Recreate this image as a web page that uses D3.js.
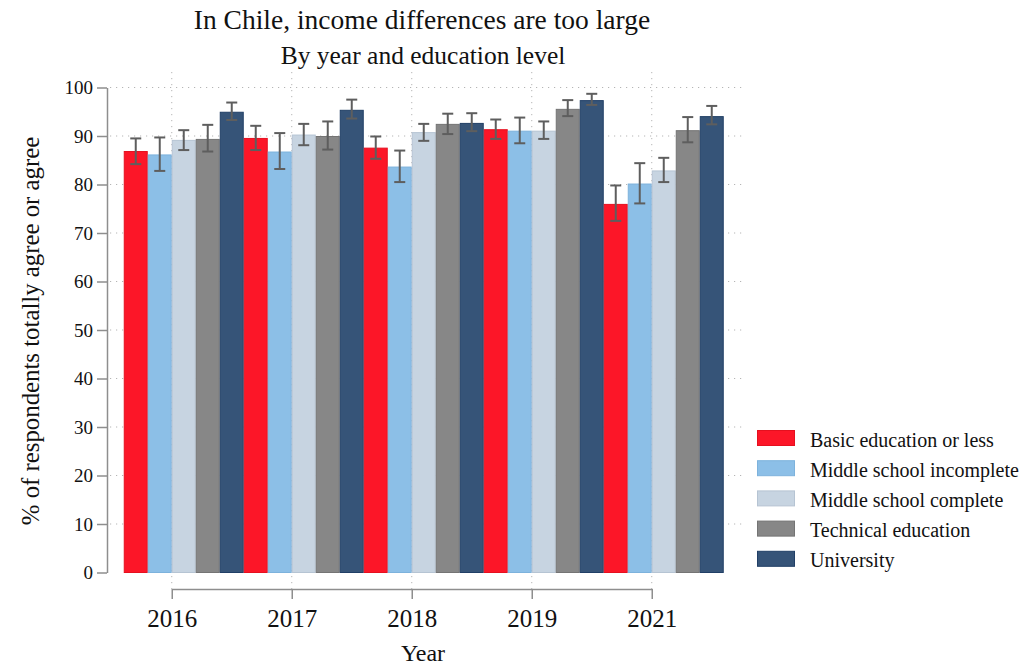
<!DOCTYPE html>
<html>
<head>
<meta charset="utf-8">
<script src="https://cdn.jsdelivr.net/npm/d3@7"></script>
<style>
  body { margin: 0; background: #fff; }
  text { font-family: "Liberation Serif", "Times New Roman", serif; fill: #111; }
</style>
</head>
<body>
<div id="container"></div>
<script>
// data
const years = ["2016", "2017", "2018", "2019", "2021"];
const categories = ["Basic education or less", "Middle school incomplete", "Middle school complete", "Technical education", "University"];
const yTicks = [0, 10, 20, 30, 40, 50, 60, 70, 80, 90, 100];

const basicVals = [86.9, 89.6, 87.6, 91.4, 76.0];
const basicLo   = [84.2, 87.1, 85.3, 89.4, 72.5];
const basicHi   = [89.5, 92.1, 89.9, 93.4, 79.8];

const midIncVals = [86.2, 86.8, 83.7, 91.1, 80.2];
const midIncLo   = [82.8, 83.2, 80.5, 88.5, 76.1];
const midIncHi   = [89.7, 90.6, 87.0, 93.8, 84.4];

const midCompVals = [89.2, 90.3, 90.8, 91.1, 82.9];
const midCompLo   = [87.1, 88.1, 89.0, 89.4, 80.5];
const midCompHi   = [91.2, 92.5, 92.5, 93.0, 85.5];

const techVals = [89.4, 90.0, 92.5, 95.6, 91.2];
const techLo   = [86.8, 87.2, 90.4, 94.1, 88.7];
const techHi   = [92.3, 93.0, 94.6, 97.4, 93.9];

const uniVals = [95.0, 95.4, 92.7, 97.4, 94.1];
const uniLo   = [93.3, 93.6, 91.0, 96.4, 92.4];
const uniHi   = [96.9, 97.5, 94.7, 98.7, 96.2];

const series = [
  { name: categories[0], vals: basicVals, lo: basicLo, hi: basicHi },
  { name: categories[1], vals: midIncVals, lo: midIncLo, hi: midIncHi },
  { name: categories[2], vals: midCompVals, lo: midCompLo, hi: midCompHi },
  { name: categories[3], vals: techVals, lo: techLo, hi: techHi },
  { name: categories[4], vals: uniVals, lo: uniLo, hi: uniHi }
];

const fills   = ["#fc1628", "#8cbfe7", "#c7d4e1", "#878787", "#365478"];
const strokes = ["#e5101f", "#7db2dc", "#b6c4d3", "#747474", "#213f66"];

const w = 1030, h = 665;
const plotLeft = 107, plotRight = 742, plotTop = 87.5, plotBottom = 572.5;

const svg = d3.select("#container")
  .append("svg")
    .attr("width", w)
    .attr("height", h)
    .style("background-color", "#fff");

const x0 = d3.scaleBand().domain(years).range([123.75, 723.75]).padding(0);
const x1 = d3.scaleBand().domain(categories).range([0, x0.bandwidth()]).padding(0);
const y = d3.scaleLinear().domain([0, 100]).range([plotBottom, plotTop]);
const color = d3.scaleOrdinal().domain(categories).range(fills);
const edge = d3.scaleOrdinal().domain(categories).range(strokes);

// year ticks sit at the start of the third bar in each group
const xt = d3.scalePoint()
  .domain(years)
  .range([x0(years[0]) + x1(categories[2]), x0(years[years.length - 1]) + x1(categories[2])])
  .padding(0);

// grid
svg.append("g")
  .selectAll("line")
  .data(yTicks.filter(d => d > 0))
  .join("line")
    .attr("x1", plotLeft + 3)
    .attr("x2", plotRight)
    .attr("y1", d => y(d))
    .attr("y2", d => y(d))
    .attr("stroke", "#b5b5b5")
    .attr("stroke-width", 1)
    .attr("stroke-dasharray", "1.2,4.8");

svg.append("g")
  .selectAll("line")
  .data(years)
  .join("line")
    .attr("x1", d => xt(d))
    .attr("x2", d => xt(d))
    .attr("y1", 72)
    .attr("y2", 589)
    .attr("stroke", "#b5b5b5")
    .attr("stroke-width", 1)
    .attr("stroke-dasharray", "1.2,4.8");

// bars
const groups = svg.append("g")
  .selectAll("g")
  .data(years)
  .join("g")
    .attr("transform", d => `translate(${x0(d)},0)`);

groups.selectAll("rect")
  .data((yr, i) => series.map(s => ({ name: s.name, v: s.vals[i] })))
  .join("rect")
    .attr("x", d => x1(d.name) + 0.5)
    .attr("y", d => y(d.v) + 0.5)
    .attr("width", x1.bandwidth() - 1)
    .attr("height", d => y(0) - y(d.v) - 0.5)
    .attr("fill", d => color(d.name))
    .attr("stroke", d => edge(d.name))
    .attr("stroke-width", 1);

// error bars
const errs = groups.selectAll("g.err")
  .data((yr, i) => series.map(s => ({ name: s.name, lo: s.lo[i], hi: s.hi[i] })))
  .join("g")
    .attr("class", "err")
    .attr("transform", d => `translate(${x1(d.name) + x1.bandwidth() / 2},0)`)
    .attr("stroke", "#5e5e5e")
    .attr("stroke-width", 2);

errs.append("line")
  .attr("y1", d => y(d.lo)).attr("y2", d => y(d.hi));
errs.append("line")
  .attr("x1", -5.5).attr("x2", 5.5)
  .attr("y1", d => y(d.hi)).attr("y2", d => y(d.hi));
errs.append("line")
  .attr("x1", -5.5).attr("x2", 5.5)
  .attr("y1", d => y(d.lo)).attr("y2", d => y(d.lo));

// y axis
const yAxis = svg.append("g")
  .attr("transform", `translate(${plotLeft},0)`)
  .call(d3.axisLeft(y).tickValues(yTicks).tickSize(10).tickSizeOuter(0).tickPadding(4));
yAxis.select(".domain").attr("stroke", "#8e8e8e").attr("stroke-width", 1.5);
yAxis.selectAll(".tick line").attr("stroke", "#8e8e8e").attr("stroke-width", 1.5);
yAxis.selectAll(".tick text")
  .style("font-family", "'Liberation Serif', serif")
  .style("font-size", "19px")
  .attr("fill", "#111");

// x axis
const xAxis = svg.append("g")
  .attr("transform", "translate(0,589)")
  .call(d3.axisBottom(xt).tickSize(10).tickSizeOuter(0).tickPadding(10));
xAxis.select(".domain").attr("stroke", "#8e8e8e").attr("stroke-width", 1.5);
xAxis.selectAll(".tick line").attr("stroke", "#8e8e8e").attr("stroke-width", 1.5);
xAxis.selectAll(".tick text")
  .style("font-family", "'Liberation Serif', serif")
  .style("font-size", "25px")
  .attr("fill", "#111");

// titles
svg.append("text")
  .attr("x", 422).attr("y", 29)
  .attr("text-anchor", "middle")
  .style("font-size", "27.5px")
  .text("In Chile, income differences are too large");

svg.append("text")
  .attr("x", 423).attr("y", 64)
  .attr("text-anchor", "middle")
  .style("font-size", "25.5px")
  .text("By year and education level");

svg.append("text")
  .attr("transform", "translate(39,331) rotate(-90)")
  .attr("text-anchor", "middle")
  .style("font-size", "24.8px")
  .text("% of respondents totally agree or agree");

svg.append("text")
  .attr("x", 423).attr("y", 661)
  .attr("text-anchor", "middle")
  .style("font-size", "24px")
  .text("Year");

// legend
const legend = svg.append("g")
  .attr("class", "legend")
  .attr("transform", "translate(757,430)");

const items = legend.selectAll("g")
  .data(categories)
  .join("g")
    .attr("transform", (d, i) => `translate(0,${i * 30.2})`);

items.append("rect")
  .attr("x", 0.5).attr("y", 0.5)
  .attr("width", 37).attr("height", 15)
  .attr("fill", d => color(d))
  .attr("stroke", d => edge(d))
  .attr("stroke-width", 1);

items.append("text")
  .attr("x", 53)
  .attr("y", 16.5)
  .style("font-size", "20px")
  .text(d => d);
</script>
</body>
</html>
